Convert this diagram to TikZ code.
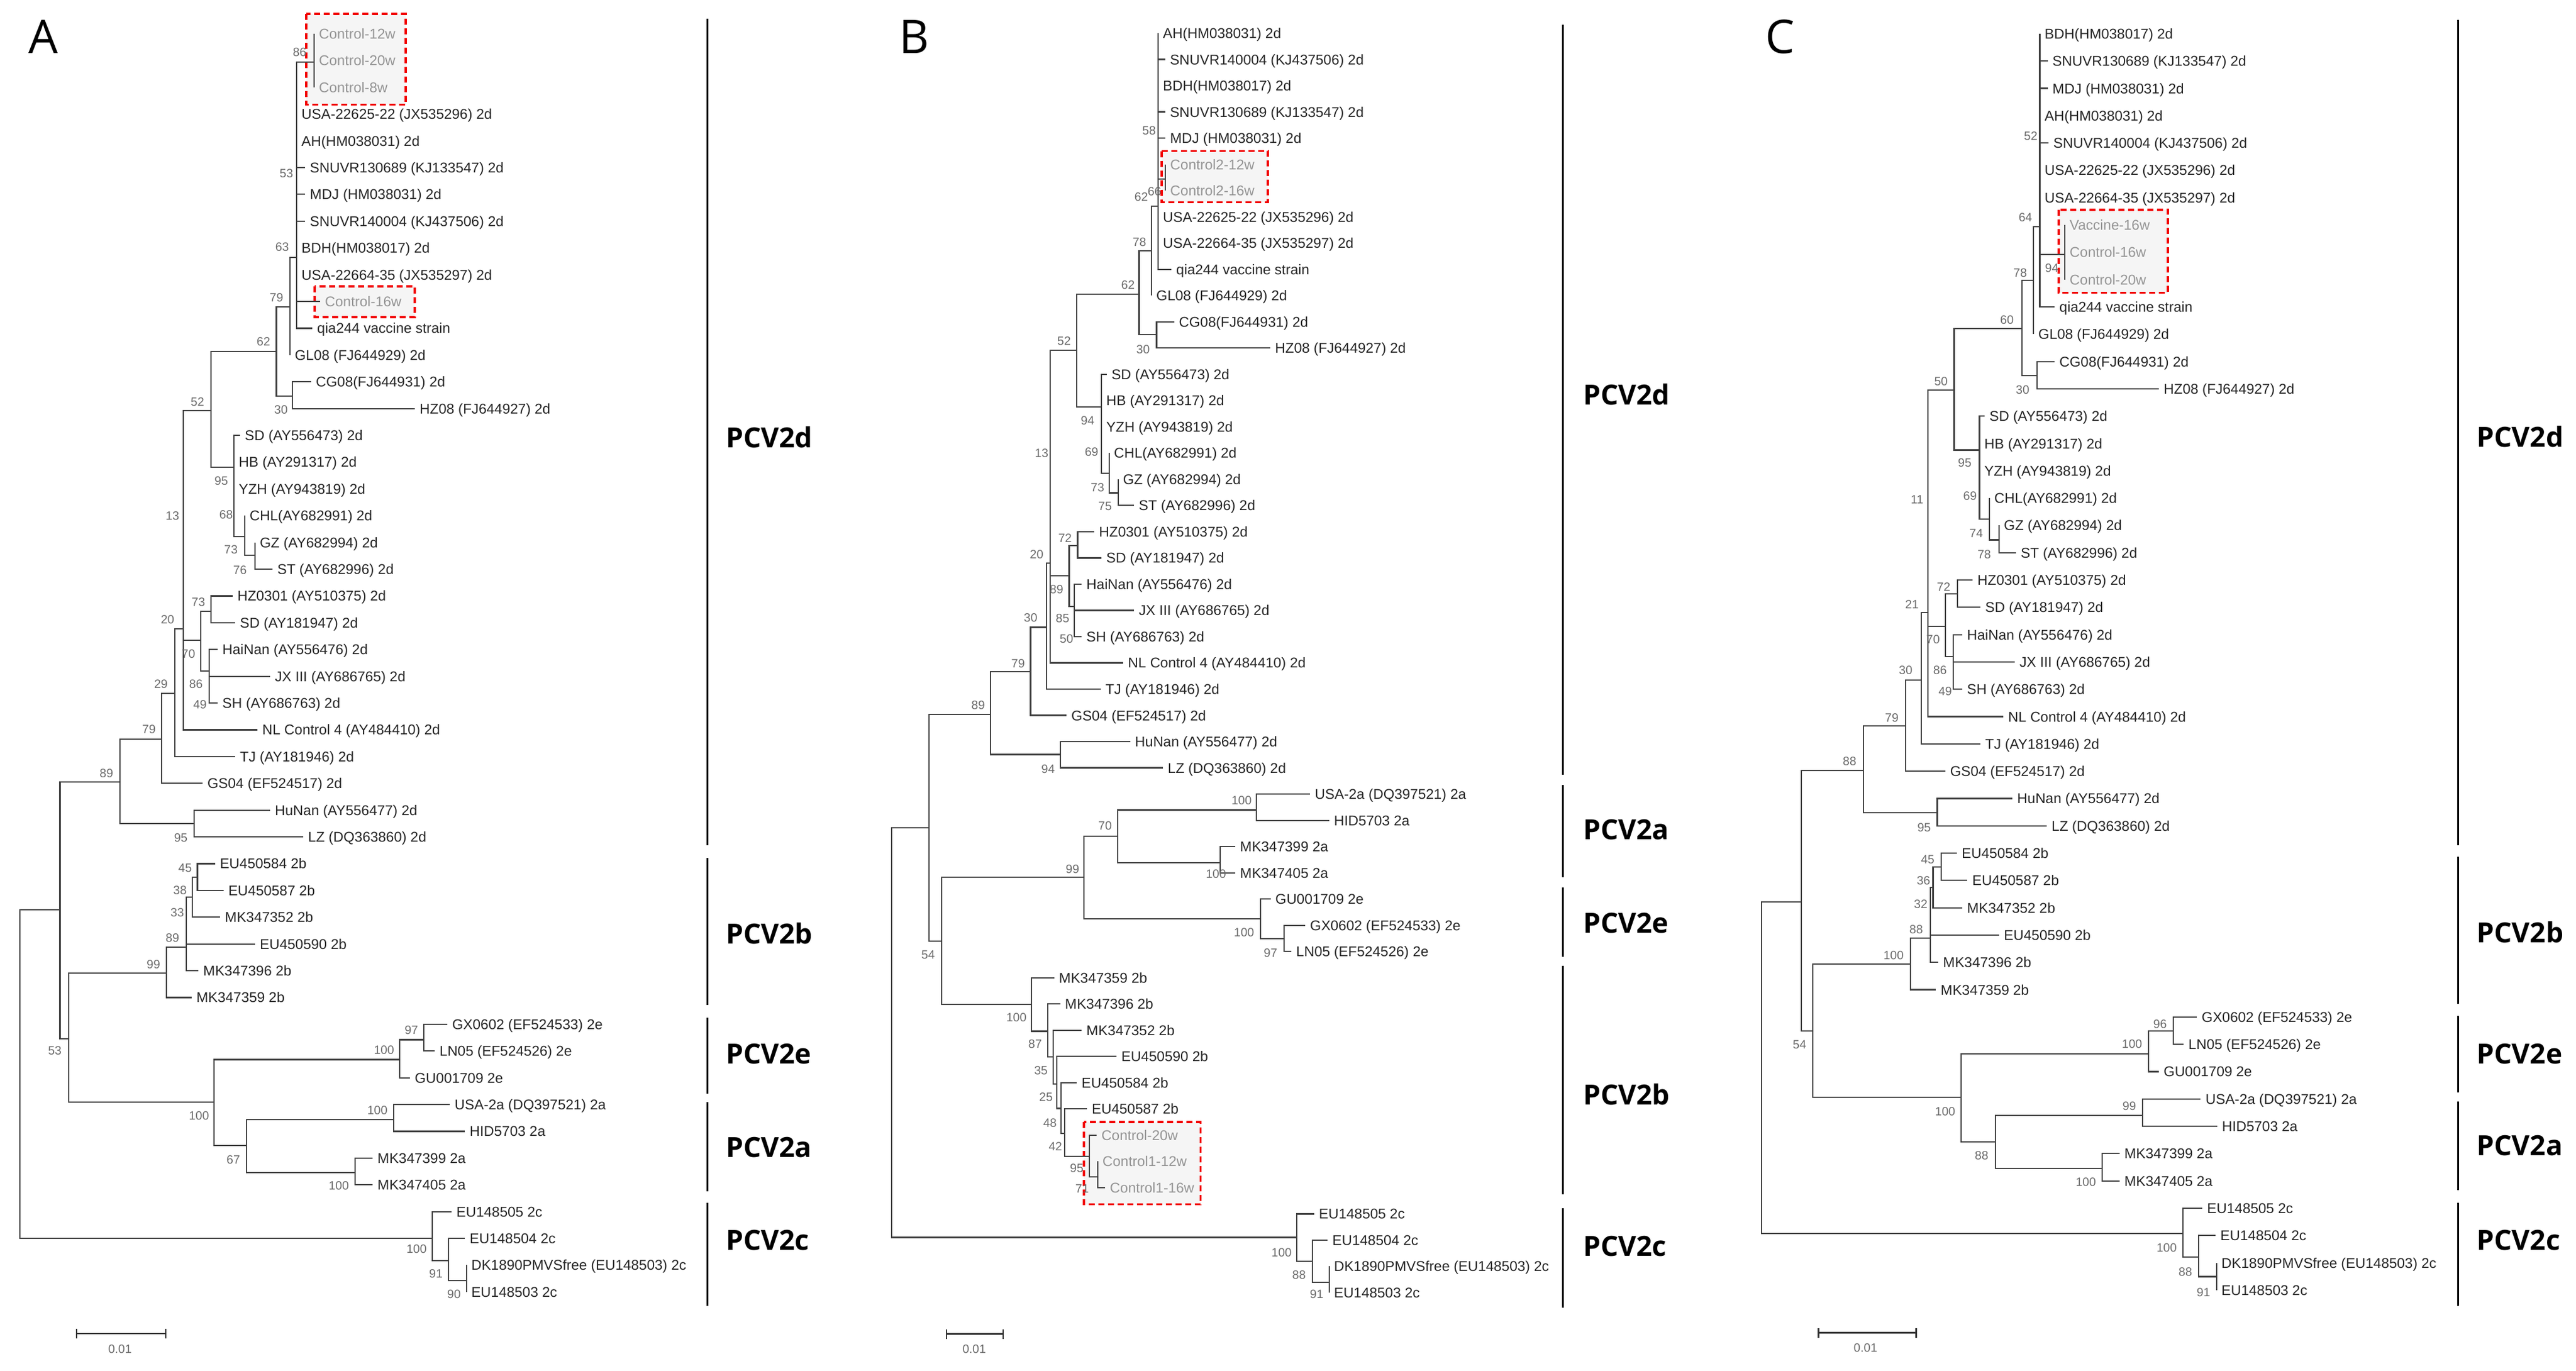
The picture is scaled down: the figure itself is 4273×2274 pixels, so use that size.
\documentclass[tikz,border=0pt]{standalone}
\usepackage{fontspec}
\setmainfont{Liberation Sans}
\newfontfamily\leaffam{Liberation Sans}
\newfontfamily\headfam{Open Sans}
\newcommand\leaffont{\leaffam\fontsize{23.5}{28}\selectfont}
\newcommand\bsfont{\leaffam\fontsize{20}{24}\selectfont}
\newcommand\cladefont{\headfam\bfseries\fontsize{46}{50}\selectfont}
\newcommand\panelfont{\headfam\fontsize{77}{80}\selectfont}
\newcommand\rA[1]{56+44.4*(#1-1)}
\newcommand\rB[1]{55+43.52*(#1-1)}
\newcommand\rC[1]{56+45.3*(#1-1)}
\tikzset{
  br/.style={draw=black!75, line width=2.2pt},
  leaf/.style={anchor=west, inner xsep=8pt, inner ysep=0pt, font=\leaffont, text=black!85, text height=17pt, text depth=0pt},
  ctl/.style={leaf, text=black!42},
  bs/.style={font=\bsfont, text=black!58, inner sep=0pt},
  clade/.style={font=\cladefont, anchor=west, inner sep=0pt, text=black},
  panel/.style={font=\panelfont, inner sep=0pt, text=black},
  cbar/.style={draw=black, line width=3pt},
  redbox/.style={draw=red!95!black, dash pattern=on 10pt off 6pt, line width=3.5pt, fill=black!4},
  scalebar/.style={draw=black!80, line width=2.5pt},
  sclabel/.style={font=\bsfont, text=black!58, inner sep=0pt}
}
\begin{document}
\begin{tikzpicture}[x=1pt,y=-1pt]
\fill[white] (0,0) rectangle (4273,2274);
\useasboundingbox (0,0) rectangle (4273,2274);

% ---------------- red boxes ----------------
\draw[redbox] (508,23) rectangle (673,173.5);
\draw[redbox] (522,475) rectangle (688,526);
\draw[redbox] (1927,250.6) rectangle (2103,335.4);
\draw[redbox] (1798,1861) rectangle (1991.5,1997.5);
\draw[redbox] (3415,348) rectangle (3596,485.7);

% ---------------- panel letters ----------------
\node[panel] (pA) at (72,61) {A};
\node[panel] (pB) at (1516,61) {B};
\node[panel] (pC) at (2952.5,61) {C};

% =============== PANEL A ===============
\coordinate (aiR) at (33,1781);
\coordinate (aiX) at (99.5,1509);
\coordinate (ai89) at (199,1297);
\coordinate (ai29) at (268,1226);
\coordinate (ai20) at (290,1149.6);
\coordinate (ai13) at (304,1043);
\coordinate (ai52) at (350,681);
\coordinate (ai62) at (458.5,583);
\coordinate (ai79) at (481,509);
\coordinate (aiP) at (492,426.6);
\coordinate (aiC3) at (521,103);
\coordinate (ai30) at (485,657);
\coordinate (ai95) at (388,775);
\coordinate (ai68) at (406,890);
\coordinate (ai73) at (423,921);
\coordinate (ai70) at (333,1062);
\coordinate (ai73b) at (350,1014);
\coordinate (ai86) at (346.6,1113);
\coordinate (ai95b) at (322,1366);
\coordinate (ai53) at (113.6,1723);
\coordinate (ai99) at (276,1614);
\coordinate (ai89b) at (309,1571);
\coordinate (ai38) at (319,1488);
\coordinate (ai45) at (327.5,1455);
\coordinate (ai100) at (355,1828);
\coordinate (ai100e) at (663,1757.5);
\coordinate (ai97) at (703,1724.5);
\coordinate (ai67) at (409,1900);
\coordinate (ai100a) at (652.6,1857);
\coordinate (ai100b) at (589,1945);
\coordinate (ai100c) at (717,2053.7);
\coordinate (ai91) at (744,2091);
\coordinate (ai90) at (773.6,2124);

\node[ctl] (al1) at (521,{\rA{1}}) {Control-12w};
\node[ctl] (al2) at (521,{\rA{2}}) {Control-20w};
\node[ctl] (al3) at (521,{\rA{3}}) {Control-8w};
\node[leaf] (al4) at (492,{\rA{4}}) {USA-22625-22 (JX535296) 2d};
\node[leaf] (al5) at (492,{\rA{5}}) {AH(HM038031) 2d};
\node[leaf] (al6) at (506,{\rA{6}}) {SNUVR130689 (KJ133547) 2d};
\node[leaf] (al7) at (506,{\rA{7}}) {MDJ (HM038031) 2d};
\node[leaf] (al8) at (506,{\rA{8}}) {SNUVR140004 (KJ437506) 2d};
\node[leaf] (al9) at (492,{\rA{9}}) {BDH(HM038017) 2d};
\node[leaf] (al10) at (492,{\rA{10}}) {USA-22664-35 (JX535297) 2d};
\node[ctl] (al11) at (531,{\rA{11}}) {Control-16w};
\node[leaf] (al12) at (518,{\rA{12}}) {qia244 vaccine strain};
\node[leaf] (al13) at (481,{\rA{13}}) {GL08 (FJ644929) 2d};
\node[leaf] (al14) at (516,{\rA{14}}) {CG08(FJ644931) 2d};
\node[leaf] (al15) at (688,{\rA{15}}) {HZ08 (FJ644927) 2d};
\node[leaf] (al16) at (398,{\rA{16}}) {SD (AY556473) 2d};
\node[leaf] (al17) at (388,{\rA{17}}) {HB (AY291317) 2d};
\node[leaf] (al18) at (388,{\rA{18}}) {YZH (AY943819) 2d};
\node[leaf] (al19) at (406,{\rA{19}}) {CHL(AY682991) 2d};
\node[leaf] (al20) at (423,{\rA{20}}) {GZ (AY682994) 2d};
\node[leaf] (al21) at (452,{\rA{21}}) {ST (AY682996) 2d};
\node[leaf] (al22) at (385.6,{\rA{22}}) {HZ0301 (AY510375) 2d};
\node[leaf] (al23) at (390,{\rA{23}}) {SD (AY181947) 2d};
\node[leaf] (al24) at (360.7,{\rA{24}}) {HaiNan (AY556476) 2d};
\node[leaf] (al25) at (448,{\rA{25}}) {JX III (AY686765) 2d};
\node[leaf] (al26) at (360.7,{\rA{26}}) {SH (AY686763) 2d};
\node[leaf] (al27) at (427,{\rA{27}}) {NL Control 4 (AY484410) 2d};
\node[leaf] (al28) at (390,{\rA{28}}) {TJ (AY181946) 2d};
\node[leaf] (al29) at (336,{\rA{29}}) {GS04 (EF524517) 2d};
\node[leaf] (al30) at (448,{\rA{30}}) {HuNan (AY556477) 2d};
\node[leaf] (al31) at (503,{\rA{31}}) {LZ (DQ363860) 2d};
\node[leaf] (al32) at (356.6,{\rA{32}}) {EU450584 2b};
\node[leaf] (al33) at (370.6,{\rA{33}}) {EU450587 2b};
\node[leaf] (al34) at (365,{\rA{34}}) {MK347352 2b};
\node[leaf] (al35) at (423,{\rA{35}}) {EU450590 2b};
\node[leaf] (al36) at (329,{\rA{36}}) {MK347396 2b};
\node[leaf] (al37) at (317.6,{\rA{37}}) {MK347359 2b};
\node[leaf] (al38) at (742,{\rA{38}}) {GX0602 (EF524533) 2e};
\node[leaf] (al39) at (721,{\rA{39}}) {LN05 (EF524526) 2e};
\node[leaf] (al40) at (680,{\rA{40}}) {GU001709 2e};
\node[leaf] (al41) at (746,{\rA{41}}) {USA-2a (DQ397521) 2a};
\node[leaf] (al42) at (771,{\rA{42}}) {HID5703 2a};
\node[leaf] (al43) at (618,{\rA{43}}) {MK347399 2a};
\node[leaf] (al44) at (618,{\rA{44}}) {MK347405 2a};
\node[leaf] (al45) at (749,{\rA{45}}) {EU148505 2c};
\node[leaf] (al46) at (771,{\rA{46}}) {EU148504 2c};
\node[leaf] (al47) at (773.6,{\rA{47}}) {DK1890PMVSfree (EU148503) 2c};
\node[leaf] (al48) at (773.6,{\rA{48}}) {EU148503 2c};

\draw[br] (aiR) |- (aiX);  \draw[br] (aiR) |- (ai100c);
\draw[br] (aiX) |- (ai89); \draw[br] (aiX) |- (ai53);
\draw[br] (ai89) |- (ai29); \draw[br] (ai89) |- (ai95b);
\draw[br] (ai29) |- (ai20); \draw[br] (ai29) |- (al29.west);
\draw[br] (ai20) |- (ai13); \draw[br] (ai20) |- (al28.west);
\draw[br] (ai13) |- (ai52); \draw[br] (ai13) |- (ai70); \draw[br] (ai13) |- (al27.west);
\draw[br] (ai52) |- (ai62); \draw[br] (ai52) |- (ai95);
\draw[br] (ai62) |- (ai79); \draw[br] (ai62) |- (ai30);
\draw[br] (ai79) |- (aiP); \draw[br] (ai79) |- (al13.west);
\draw[br] (aiP) |- (aiC3);
\foreach \k in {4,...,12} {\draw[br] (aiP) |- (al\k.west);}
\foreach \k in {1,2,3} {\draw[br] (aiC3) |- (al\k.west);}
\draw[br] (ai30) |- (al14.west); \draw[br] (ai30) |- (al15.west);
\foreach \k in {16,17,18} {\draw[br] (ai95) |- (al\k.west);}
\draw[br] (ai95) |- (ai68);
\draw[br] (ai68) |- (al19.west); \draw[br] (ai68) |- (ai73);
\draw[br] (ai73) |- (al20.west); \draw[br] (ai73) |- (al21.west);
\draw[br] (ai70) |- (ai73b); \draw[br] (ai70) |- (ai86);
\draw[br] (ai73b) |- (al22.west); \draw[br] (ai73b) |- (al23.west);
\foreach \k in {24,25,26} {\draw[br] (ai86) |- (al\k.west);}
\draw[br] (ai95b) |- (al30.west); \draw[br] (ai95b) |- (al31.west);
\draw[br] (ai53) |- (ai99); \draw[br] (ai53) |- (ai100);
\draw[br] (ai99) |- (ai89b); \draw[br] (ai99) |- (al37.west);
\draw[br] (ai89b) |- (ai38); \draw[br] (ai89b) |- (al35.west); \draw[br] (ai89b) |- (al36.west);
\draw[br] (ai38) |- (ai45); \draw[br] (ai38) |- (al34.west);
\draw[br] (ai45) |- (al32.west); \draw[br] (ai45) |- (al33.west);
\draw[br] (ai100) |- (ai100e); \draw[br] (ai100) |- (ai67);
\draw[br] (ai100e) |- (ai97); \draw[br] (ai100e) |- (al40.west);
\draw[br] (ai97) |- (al38.west); \draw[br] (ai97) |- (al39.west);
\draw[br] (ai67) |- (ai100a); \draw[br] (ai67) |- (ai100b);
\draw[br] (ai100a) |- (al41.west); \draw[br] (ai100a) |- (al42.west);
\draw[br] (ai100b) |- (al43.west); \draw[br] (ai100b) |- (al44.west);
\draw[br] (ai100c) |- (al45.west); \draw[br] (ai100c) |- (ai91);
\draw[br] (ai91) |- (al46.west); \draw[br] (ai91) |- (ai90);
\draw[br] (ai90) |- (al47.west); \draw[br] (ai90) |- (al48.west);

\node[bs] (ab1) at (497,87) {86};
\node[bs] (ab2) at (475,288) {53};
\node[bs] (ab3) at (468,410) {63};
\node[bs] (ab4) at (458.5,494) {79};
\node[bs] (ab5) at (437,567) {62};
\node[bs] (ab6) at (466,680) {30};
\node[bs] (ab7) at (327.5,666.5) {52};
\node[bs] (ab8) at (367,798) {95};
\node[bs] (ab9) at (375,854) {68};
\node[bs] (ab10) at (383,912) {73};
\node[bs] (ab11) at (398,946) {76};
\node[bs] (ab12) at (286,856) {13};
\node[bs] (ab13) at (329,999) {73};
\node[bs] (ab14) at (278,1028) {20};
\node[bs] (ab15) at (312.6,1085) {70};
\node[bs] (ab16) at (325,1135) {86};
\node[bs] (ab17) at (331.7,1169) {49};
\node[bs] (ab18) at (267,1135) {29};
\node[bs] (ab19) at (247,1210) {79};
\node[bs] (ab20) at (176.6,1283) {89};
\node[bs] (ab21) at (300,1389.5) {95};
\node[bs] (ab22) at (307,1440) {45};
\node[bs] (ab23) at (298.5,1477) {38};
\node[bs] (ab24) at (294,1514) {33};
\node[bs] (ab25) at (286,1556) {89};
\node[bs] (ab26) at (254.6,1600) {99};
\node[bs] (ab27) at (91,1743) {53};
\node[bs] (ab28) at (330,1851) {100};
\node[bs] (ab29) at (682.4,1709) {97};
\node[bs] (ab30) at (637,1742) {100};
\node[bs] (ab31) at (626,1842) {100};
\node[bs] (ab32) at (387,1924) {67};
\node[bs] (ab33) at (562,1967) {100};
\node[bs] (ab34) at (691,2072) {100};
\node[bs] (ab35) at (723,2113) {91};
\node[bs] (ab36) at (753,2147) {90};

\draw[cbar] (1173,31.5) -- (1173,1402);
\draw[cbar] (1173,1423) -- (1173,1667);
\draw[cbar] (1173,1688) -- (1173,1814);
\draw[cbar] (1173,1828) -- (1173,1976);
\draw[cbar] (1173,1995) -- (1173,2166);
\node[clade] (acd) at (1204,725) {PCV2d};
\node[clade] (acb) at (1204,1548) {PCV2b};
\node[clade] (ace) at (1204,1748) {PCV2e};
\node[clade] (aca) at (1204,1903) {PCV2a};
\node[clade] (acc) at (1204,2057) {PCV2c};

\draw[scalebar] (127,2212) -- (275,2212);
\draw[scalebar] (127,2204) -- (127,2220);
\draw[scalebar] (275,2204) -- (275,2220);
\node[sclabel] (asc) at (199,2238) {0.01};

% =============== PANEL B ===============
\coordinate (biR) at (1479,1712);
\coordinate (bi89t) at (1541,1372.6);
\coordinate (bi79) at (1643,1185);
\coordinate (bi30) at (1709.5,1114);
\coordinate (bi20) at (1736,1040.5);
\coordinate (bi13) at (1742,934);
\coordinate (bi52) at (1786,581);
\coordinate (bi62) at (1889.5,487.6);
\coordinate (bi78) at (1910,416);
\coordinate (biP) at (1921,341.7);
\coordinate (biC2) at (1933,297);
\coordinate (bi30b) at (1918.5,555);
\coordinate (bi94) at (1827,674.7);
\coordinate (bi69) at (1839.7,785);
\coordinate (bi73) at (1854.6,817.5);
\coordinate (biX) at (1773.4,955);
\coordinate (bi72) at (1787.5,904.8);
\coordinate (bi89) at (1781.7,1005.6);
\coordinate (bi94b) at (1759,1251.5);
\coordinate (bi54) at (1562,1561);
\coordinate (bi99) at (1798,1455);
\coordinate (bi70) at (1854,1387);
\coordinate (bi100a) at (2084,1343.5);
\coordinate (bi100b) at (2024,1430.7);
\coordinate (bi100e) at (2091,1524);
\coordinate (bi97) at (2130,1557);
\coordinate (bi100f) at (1711,1666);
\coordinate (bi87) at (1738,1710.4);
\coordinate (bi36) at (1746.7,1753);
\coordinate (bi25) at (1753.3,1798);
\coordinate (bi48) at (1760,1838.5);
\coordinate (bi42) at (1766,1880);
\coordinate (bi95) at (1806.7,1918.3);
\coordinate (bi71) at (1820.7,1951.7);
\coordinate (bi100c) at (2150.6,2052.5);
\coordinate (bi88) at (2177,2092);
\coordinate (bi91) at (2204.6,2126.6);

\node[leaf] (bl1) at (1921,{\rB{1}}) {AH(HM038031) 2d};
\node[leaf] (bl2) at (1932.6,{\rB{2}}) {SNUVR140004 (KJ437506) 2d};
\node[leaf] (bl3) at (1921,{\rB{3}}) {BDH(HM038017) 2d};
\node[leaf] (bl4) at (1932.6,{\rB{4}}) {SNUVR130689 (KJ133547) 2d};
\node[leaf] (bl5) at (1932.6,{\rB{5}}) {MDJ (HM038031) 2d};
\node[ctl] (bl6) at (1933,{\rB{6}}) {Control2-12w};
\node[ctl] (bl7) at (1933,{\rB{7}}) {Control2-16w};
\node[leaf] (bl8) at (1921,{\rB{8}}) {USA-22625-22 (JX535296) 2d};
\node[leaf] (bl9) at (1921,{\rB{9}}) {USA-22664-35 (JX535297) 2d};
\node[leaf] (bl10) at (1943,{\rB{10}}) {qia244 vaccine strain};
\node[leaf] (bl11) at (1910,{\rB{11}}) {GL08 (FJ644929) 2d};
\node[leaf] (bl12) at (1947.5,{\rB{12}}) {CG08(FJ644931) 2d};
\node[leaf] (bl13) at (2107,{\rB{13}}) {HZ08 (FJ644927) 2d};
\node[leaf] (bl14) at (1835.6,{\rB{14}}) {SD (AY556473) 2d};
\node[leaf] (bl15) at (1827,{\rB{15}}) {HB (AY291317) 2d};
\node[leaf] (bl16) at (1827,{\rB{16}}) {YZH (AY943819) 2d};
\node[leaf] (bl17) at (1839.7,{\rB{17}}) {CHL(AY682991) 2d};
\node[leaf] (bl18) at (1854.6,{\rB{18}}) {GZ (AY682994) 2d};
\node[leaf] (bl19) at (1881,{\rB{19}}) {ST (AY682996) 2d};
\node[leaf] (bl20) at (1815,{\rB{20}}) {HZ0301 (AY510375) 2d};
\node[leaf] (bl21) at (1827,{\rB{21}}) {SD (AY181947) 2d};
\node[leaf] (bl22) at (1794,{\rB{22}}) {HaiNan (AY556476) 2d};
\node[leaf] (bl23) at (1881,{\rB{23}}) {JX III (AY686765) 2d};
\node[leaf] (bl24) at (1794,{\rB{24}}) {SH (AY686763) 2d};
\node[leaf] (bl25) at (1863,{\rB{25}}) {NL Control 4 (AY484410) 2d};
\node[leaf] (bl26) at (1825.6,{\rB{26}}) {TJ (AY181946) 2d};
\node[leaf] (bl27) at (1769,{\rB{27}}) {GS04 (EF524517) 2d};
\node[leaf] (bl28) at (1874.5,{\rB{28}}) {HuNan (AY556477) 2d};
\node[leaf] (bl29) at (1929,{\rB{29}}) {LZ (DQ363860) 2d};
\node[leaf] (bl30) at (2173,{\rB{30}}) {USA-2a (DQ397521) 2a};
\node[leaf] (bl31) at (2204.6,{\rB{31}}) {HID5703 2a};
\node[leaf] (bl32) at (2048.7,{\rB{32}}) {MK347399 2a};
\node[leaf] (bl33) at (2048.7,{\rB{33}}) {MK347405 2a};
\node[leaf] (bl34) at (2107.5,{\rB{34}}) {GU001709 2e};
\node[leaf] (bl35) at (2165,{\rB{35}}) {GX0602 (EF524533) 2e};
\node[leaf] (bl36) at (2142,{\rB{36}}) {LN05 (EF524526) 2e};
\node[leaf] (bl37) at (1748.5,{\rB{37}}) {MK347359 2b};
\node[leaf] (bl38) at (1758.5,{\rB{38}}) {MK347396 2b};
\node[leaf] (bl39) at (1794,{\rB{39}}) {MK347352 2b};
\node[leaf] (bl40) at (1852,{\rB{40}}) {EU450590 2b};
\node[leaf] (bl41) at (1786,{\rB{41}}) {EU450584 2b};
\node[leaf] (bl42) at (1803,{\rB{42}}) {EU450587 2b};
\node[ctl] (bl43) at (1819,{\rB{43}}) {Control-20w};
\node[ctl] (bl44) at (1820.7,{\rB{44}}) {Control1-12w};
\node[ctl] (bl45) at (1833,{\rB{45}}) {Control1-16w};
\node[leaf] (bl46) at (2179.7,{\rB{46}}) {EU148505 2c};
\node[leaf] (bl47) at (2202,{\rB{47}}) {EU148504 2c};
\node[leaf] (bl48) at (2204.6,{\rB{48}}) {DK1890PMVSfree (EU148503) 2c};
\node[leaf] (bl49) at (2204.6,{\rB{49}}) {EU148503 2c};

\draw[br] (biR) |- (bi89t); \draw[br] (biR) |- (bi100c);
\draw[br] (bi89t) |- (bi79); \draw[br] (bi89t) |- (bi54);
\draw[br] (bi79) |- (bi30); \draw[br] (bi79) |- (bi94b);
\draw[br] (bi30) |- (bi20); \draw[br] (bi30) |- (bl27.west);
\draw[br] (bi20) |- (bi13); \draw[br] (bi20) |- (bl26.west);
\draw[br] (bi13) |- (bi52); \draw[br] (bi13) |- (biX); \draw[br] (bi13) |- (bl25.west);
\draw[br] (bi52) |- (bi62); \draw[br] (bi52) |- (bi94);
\draw[br] (bi62) |- (bi78); \draw[br] (bi62) |- (bi30b);
\draw[br] (bi78) |- (biP); \draw[br] (bi78) |- (bl11.west);
\foreach \k in {1,2,3,4,5,8,9,10} {\draw[br] (biP) |- (bl\k.west);}
\draw[br] (biP) |- (biC2);
\draw[br] (biC2) |- (bl6.west); \draw[br] (biC2) |- (bl7.west);
\draw[br] (bi30b) |- (bl12.west); \draw[br] (bi30b) |- (bl13.west);
\foreach \k in {14,15,16} {\draw[br] (bi94) |- (bl\k.west);}
\draw[br] (bi94) |- (bi69);
\draw[br] (bi69) |- (bl17.west); \draw[br] (bi69) |- (bi73);
\draw[br] (bi73) |- (bl18.west); \draw[br] (bi73) |- (bl19.west);
\draw[br] (biX) |- (bi72); \draw[br] (biX) |- (bi89);
\draw[br] (bi72) |- (bl20.west); \draw[br] (bi72) |- (bl21.west);
\foreach \k in {22,23,24} {\draw[br] (bi89) |- (bl\k.west);}
\draw[br] (bi94b) |- (bl28.west); \draw[br] (bi94b) |- (bl29.west);
\draw[br] (bi54) |- (bi99); \draw[br] (bi54) |- (bi100f);
\draw[br] (bi99) |- (bi70); \draw[br] (bi99) |- (bi100e);
\draw[br] (bi70) |- (bi100a); \draw[br] (bi70) |- (bi100b);
\draw[br] (bi100a) |- (bl30.west); \draw[br] (bi100a) |- (bl31.west);
\draw[br] (bi100b) |- (bl32.west); \draw[br] (bi100b) |- (bl33.west);
\draw[br] (bi100e) |- (bl34.west); \draw[br] (bi100e) |- (bi97);
\draw[br] (bi97) |- (bl35.west); \draw[br] (bi97) |- (bl36.west);
\draw[br] (bi100f) |- (bl37.west); \draw[br] (bi100f) |- (bi87);
\draw[br] (bi87) |- (bl38.west); \draw[br] (bi87) |- (bi36);
\draw[br] (bi36) |- (bl39.west); \draw[br] (bi36) |- (bi25);
\draw[br] (bi25) |- (bl40.west); \draw[br] (bi25) |- (bi48);
\draw[br] (bi48) |- (bl41.west); \draw[br] (bi48) |- (bi42);
\draw[br] (bi42) |- (bl42.west); \draw[br] (bi42) |- (bi95);
\draw[br] (bi95) |- (bl43.west); \draw[br] (bi95) |- (bi71);
\draw[br] (bi71) |- (bl44.west); \draw[br] (bi71) |- (bl45.west);
\draw[br] (bi100c) |- (bl46.west); \draw[br] (bi100c) |- (bi88);
\draw[br] (bi88) |- (bl47.west); \draw[br] (bi88) |- (bi91);
\draw[br] (bi91) |- (bl48.west); \draw[br] (bi91) |- (bl49.west);

\node[bs] (bb1) at (1906,216.7) {58};
\node[bs] (bb2) at (1915,318) {66};
\node[bs] (bb3) at (1893,326.7) {62};
\node[bs] (bb4) at (1890,401.7) {78};
\node[bs] (bb5) at (1871,472.6) {62};
\node[bs] (bb6) at (1896,580) {30};
\node[bs] (bb7) at (1765,566) {52};
\node[bs] (bb8) at (1804,698) {94};
\node[bs] (bb9) at (1810.7,750) {69};
\node[bs] (bb10) at (1820.6,809) {73};
\node[bs] (bb11) at (1833,840) {75};
\node[bs] (bb12) at (1727.8,752) {13};
\node[bs] (bb13) at (1766.7,892.7) {72};
\node[bs] (bb14) at (1719.5,920) {20};
\node[bs] (bb15) at (1752.6,977.5) {89};
\node[bs] (bb16) at (1762.6,1026) {85};
\node[bs] (bb17) at (1769,1060) {50};
\node[bs] (bb18) at (1709.5,1025) {30};
\node[bs] (bb19) at (1688.8,1101) {79};
\node[bs] (bb20) at (1622.5,1170) {89};
\node[bs] (bb21) at (1738.6,1275.6) {94};
\node[bs] (bb22) at (2059.5,1328) {100};
\node[bs] (bb23) at (1833,1370) {70};
\node[bs] (bb24) at (1779,1442) {99};
\node[bs] (bb25) at (2017,1450) {100};
\node[bs] (bb26) at (2063.6,1547) {100};
\node[bs] (bb27) at (2107.5,1581) {97};
\node[bs] (bb28) at (1539.6,1584) {54};
\node[bs] (bb29) at (1686,1687.6) {100};
\node[bs] (bb30) at (1717,1731.6) {87};
\node[bs] (bb31) at (1726.7,1776) {35};
\node[bs] (bb32) at (1735,1820) {25};
\node[bs] (bb33) at (1741.7,1862.7) {48};
\node[bs] (bb34) at (1750.7,1901.7) {42};
\node[bs] (bb35) at (1786,1938) {95};
\node[bs] (bb36) at (1795,1971.7) {71};
\node[bs] (bb37) at (2125.8,2077.5) {100};
\node[bs] (bb38) at (2154.8,2114.4) {88};
\node[bs] (bb39) at (2184,2147) {91};

\draw[cbar] (2592.6,41) -- (2592.6,1285);
\draw[cbar] (2592.6,1302) -- (2592.6,1455);
\draw[cbar] (2592.6,1472) -- (2592.6,1587);
\draw[cbar] (2592.6,1601.5) -- (2592.6,1981);
\draw[cbar] (2592.6,2004) -- (2592.6,2168.6);
\node[clade] (bcd) at (2626,654) {PCV2d};
\node[clade] (bca) at (2626,1376) {PCV2a};
\node[clade] (bce) at (2626,1530.6) {PCV2e};
\node[clade] (bcb) at (2626,1815) {PCV2b};
\node[clade] (bcc) at (2626,2067) {PCV2c};

\draw[scalebar] (1570,2212.6) -- (1664,2212.6);
\draw[scalebar] (1570,2204.6) -- (1570,2220.6);
\draw[scalebar] (1664,2204.6) -- (1664,2220.6);
\node[sclabel] (bsc) at (1616,2238) {0.01};

% =============== PANEL C ===============
\coordinate (ciR) at (2922,1771);
\coordinate (ci88) at (2987.6,1496);
\coordinate (ci79) at (3091,1278);
\coordinate (ci30b) at (3161,1204);
\coordinate (ci21) at (3187,1128);
\coordinate (ci11) at (3198,1016);
\coordinate (ci50) at (3241.5,647);
\coordinate (ci60) at (3353.6,545);
\coordinate (ci78) at (3373,465);
\coordinate (ciP) at (3383.4,375.7);
\coordinate (ciV) at (3425,421.7);
\coordinate (ci30) at (3379,623);
\coordinate (ci95) at (3283.5,746.5);
\coordinate (ci69) at (3300,861);
\coordinate (ci74) at (3316,895.5);
\coordinate (ci70) at (3226.6,1039);
\coordinate (ci72) at (3246.8,985);
\coordinate (ci86) at (3239.8,1089);
\coordinate (ci95b) at (3213.5,1348);
\coordinate (ci54) at (3006.8,1710);
\coordinate (ci100b) at (3169,1599);
\coordinate (ci32) at (3202,1556);
\coordinate (ci36) at (3206.5,1472);
\coordinate (ci45) at (3219.6,1438);
\coordinate (ci100) at (3253,1820);
\coordinate (ci100e) at (3563.7,1748);
\coordinate (ci96) at (3605,1710);
\coordinate (ci88a) at (3309.8,1894);
\coordinate (ci99) at (3554,1849.6);
\coordinate (ci100f) at (3486.7,1938);
\coordinate (ci100c) at (3620.7,2046);
\coordinate (ci88c) at (3647,2085);
\coordinate (ci91) at (3676.7,2117.5);

\node[leaf] (cl1) at (3383.4,{\rC{1}}) {BDH(HM038017) 2d};
\node[leaf] (cl2) at (3396.5,{\rC{2}}) {SNUVR130689 (KJ133547) 2d};
\node[leaf] (cl3) at (3396.5,{\rC{3}}) {MDJ (HM038031) 2d};
\node[leaf] (cl4) at (3383.4,{\rC{4}}) {AH(HM038031) 2d};
\node[leaf] (cl5) at (3398,{\rC{5}}) {SNUVR140004 (KJ437506) 2d};
\node[leaf] (cl6) at (3383.4,{\rC{6}}) {USA-22625-22 (JX535296) 2d};
\node[leaf] (cl7) at (3383.4,{\rC{7}}) {USA-22664-35 (JX535297) 2d};
\node[ctl] (cl8) at (3425,{\rC{8}}) {Vaccine-16w};
\node[ctl] (cl9) at (3425,{\rC{9}}) {Control-16w};
\node[ctl] (cl10) at (3425,{\rC{10}}) {Control-20w};
\node[leaf] (cl11) at (3408,{\rC{11}}) {qia244 vaccine strain};
\node[leaf] (cl12) at (3373,{\rC{12}}) {GL08 (FJ644929) 2d};
\node[leaf] (cl13) at (3408,{\rC{13}}) {CG08(FJ644931) 2d};
\node[leaf] (cl14) at (3581,{\rC{14}}) {HZ08 (FJ644927) 2d};
\node[leaf] (cl15) at (3292,{\rC{15}}) {SD (AY556473) 2d};
\node[leaf] (cl16) at (3283.5,{\rC{16}}) {HB (AY291317) 2d};
\node[leaf] (cl17) at (3283.5,{\rC{17}}) {YZH (AY943819) 2d};
\node[leaf] (cl18) at (3300,{\rC{18}}) {CHL(AY682991) 2d};
\node[leaf] (cl19) at (3316,{\rC{19}}) {GZ (AY682994) 2d};
\node[leaf] (cl20) at (3344,{\rC{20}}) {ST (AY682996) 2d};
\node[leaf] (cl21) at (3272,{\rC{21}}) {HZ0301 (AY510375) 2d};
\node[leaf] (cl22) at (3285,{\rC{22}}) {SD (AY181947) 2d};
\node[leaf] (cl23) at (3254.6,{\rC{23}}) {HaiNan (AY556476) 2d};
\node[leaf] (cl24) at (3342,{\rC{24}}) {JX III (AY686765) 2d};
\node[leaf] (cl25) at (3254.6,{\rC{25}}) {SH (AY686763) 2d};
\node[leaf] (cl26) at (3323,{\rC{26}}) {NL Control 4 (AY484410) 2d};
\node[leaf] (cl27) at (3285,{\rC{27}}) {TJ (AY181946) 2d};
\node[leaf] (cl28) at (3226.6,{\rC{28}}) {GS04 (EF524517) 2d};
\node[leaf] (cl29) at (3338,{\rC{29}}) {HuNan (AY556477) 2d};
\node[leaf] (cl30) at (3395,{\rC{30}}) {LZ (DQ363860) 2d};
\node[leaf] (cl31) at (3246,{\rC{31}}) {EU450584 2b};
\node[leaf] (cl32) at (3263.4,{\rC{32}}) {EU450587 2b};
\node[leaf] (cl33) at (3254.6,{\rC{33}}) {MK347352 2b};
\node[leaf] (cl34) at (3316,{\rC{34}}) {EU450590 2b};
\node[leaf] (cl35) at (3215,{\rC{35}}) {MK347396 2b};
\node[leaf] (cl36) at (3211,{\rC{36}}) {MK347359 2b};
\node[leaf] (cl37) at (3644,{\rC{37}}) {GX0602 (EF524533) 2e};
\node[leaf] (cl38) at (3622,{\rC{38}}) {LN05 (EF524526) 2e};
\node[leaf] (cl39) at (3581,{\rC{39}}) {GU001709 2e};
\node[leaf] (cl40) at (3650.4,{\rC{40}}) {USA-2a (DQ397521) 2a};
\node[leaf] (cl41) at (3677.6,{\rC{41}}) {HID5703 2a};
\node[leaf] (cl42) at (3515.6,{\rC{42}}) {MK347399 2a};
\node[leaf] (cl43) at (3515.6,{\rC{43}}) {MK347405 2a};
\node[leaf] (cl44) at (3653,{\rC{44}}) {EU148505 2c};
\node[leaf] (cl45) at (3675,{\rC{45}}) {EU148504 2c};
\node[leaf] (cl46) at (3676.7,{\rC{46}}) {DK1890PMVSfree (EU148503) 2c};
\node[leaf] (cl47) at (3676.7,{\rC{47}}) {EU148503 2c};

\draw[br] (ciR) |- (ci88); \draw[br] (ciR) |- (ci100c);
\draw[br] (ci88) |- (ci79); \draw[br] (ci88) |- (ci54);
\draw[br] (ci79) |- (ci30b); \draw[br] (ci79) |- (ci95b);
\draw[br] (ci30b) |- (ci21); \draw[br] (ci30b) |- (cl28.west);
\draw[br] (ci21) |- (ci11); \draw[br] (ci21) |- (cl27.west);
\draw[br] (ci11) |- (ci50); \draw[br] (ci11) |- (ci70); \draw[br] (ci11) |- (cl26.west);
\draw[br] (ci50) |- (ci60); \draw[br] (ci50) |- (ci95);
\draw[br] (ci60) |- (ci78); \draw[br] (ci60) |- (ci30);
\draw[br] (ci78) |- (ciP); \draw[br] (ci78) |- (cl12.west);
\foreach \k in {1,...,7,11} {\draw[br] (ciP) |- (cl\k.west);}
\draw[br] (ciP) |- (ciV);
\foreach \k in {8,9,10} {\draw[br] (ciV) |- (cl\k.west);}
\draw[br] (ci30) |- (cl13.west); \draw[br] (ci30) |- (cl14.west);
\foreach \k in {15,16,17} {\draw[br] (ci95) |- (cl\k.west);}
\draw[br] (ci95) |- (ci69);
\draw[br] (ci69) |- (cl18.west); \draw[br] (ci69) |- (ci74);
\draw[br] (ci74) |- (cl19.west); \draw[br] (ci74) |- (cl20.west);
\draw[br] (ci70) |- (ci72); \draw[br] (ci70) |- (ci86);
\draw[br] (ci72) |- (cl21.west); \draw[br] (ci72) |- (cl22.west);
\foreach \k in {23,24,25} {\draw[br] (ci86) |- (cl\k.west);}
\draw[br] (ci95b) |- (cl29.west); \draw[br] (ci95b) |- (cl30.west);
\draw[br] (ci54) |- (ci100b); \draw[br] (ci54) |- (ci100);
\draw[br] (ci100b) |- (ci32); \draw[br] (ci100b) |- (cl36.west);
\draw[br] (ci32) |- (ci36); \draw[br] (ci32) |- (cl34.west); \draw[br] (ci32) |- (cl35.west);
\draw[br] (ci36) |- (ci45); \draw[br] (ci36) |- (cl33.west);
\draw[br] (ci45) |- (cl31.west); \draw[br] (ci45) |- (cl32.west);
\draw[br] (ci100) |- (ci100e); \draw[br] (ci100) |- (ci88a);
\draw[br] (ci100e) |- (ci96); \draw[br] (ci100e) |- (cl39.west);
\draw[br] (ci96) |- (cl37.west); \draw[br] (ci96) |- (cl38.west);
\draw[br] (ci88a) |- (ci99); \draw[br] (ci88a) |- (ci100f);
\draw[br] (ci99) |- (cl40.west); \draw[br] (ci99) |- (cl41.west);
\draw[br] (ci100f) |- (cl42.west); \draw[br] (ci100f) |- (cl43.west);
\draw[br] (ci100c) |- (cl44.west); \draw[br] (ci100c) |- (ci88c);
\draw[br] (ci88c) |- (cl45.west); \draw[br] (ci88c) |- (ci91);
\draw[br] (ci91) |- (cl46.west); \draw[br] (ci91) |- (cl47.west);

\node[bs] (cb1) at (3368.5,225.4) {52};
\node[bs] (cb2) at (3359.7,361) {64};
\node[bs] (cb3) at (3403.5,445) {94};
\node[bs] (cb4) at (3351,453) {78};
\node[bs] (cb5) at (3329,531) {60};
\node[bs] (cb6) at (3355,647) {30};
\node[bs] (cb7) at (3219.6,632.6) {50};
\node[bs] (cb8) at (3259,768) {95};
\node[bs] (cb9) at (3267.8,823) {69};
\node[bs] (cb10) at (3278,885) {74};
\node[bs] (cb11) at (3291.4,920) {78};
\node[bs] (cb12) at (3180,829) {11};
\node[bs] (cb13) at (3224,973.6) {72};
\node[bs] (cb14) at (3171.5,1003) {21};
\node[bs] (cb15) at (3206.5,1061) {70};
\node[bs] (cb16) at (3218,1112) {86};
\node[bs] (cb17) at (3226.6,1147) {49};
\node[bs] (cb18) at (3161,1112) {30};
\node[bs] (cb19) at (3138,1191) {79};
\node[bs] (cb20) at (3068,1262.5) {88};
\node[bs] (cb21) at (3191.6,1372.6) {95};
\node[bs] (cb22) at (3197.7,1426) {45};
\node[bs] (cb23) at (3190.7,1461) {36};
\node[bs] (cb24) at (3186,1500) {32};
\node[bs] (cb25) at (3178.5,1542) {88};
\node[bs] (cb26) at (3141,1585) {100};
\node[bs] (cb27) at (2985,1733) {54};
\node[bs] (cb28) at (3583,1698.7) {96};
\node[bs] (cb29) at (3536.6,1731.6) {100};
\node[bs] (cb30) at (3532,1834.4) {99};
\node[bs] (cb31) at (3226.6,1843.5) {100};
\node[bs] (cb32) at (3287,1916.5) {88};
\node[bs] (cb33) at (3460,1961) {100};
\node[bs] (cb34) at (3594,2070) {100};
\node[bs] (cb35) at (3625,2110) {88};
\node[bs] (cb36) at (3655,2144) {91};

\draw[cbar] (4077.8,33) -- (4077.8,1401.7);
\draw[cbar] (4077.8,1421) -- (4077.8,1664.8);
\draw[cbar] (4077.8,1685) -- (4077.8,1811.6);
\draw[cbar] (4077.8,1827) -- (4077.8,1973.7);
\draw[cbar] (4077.8,1995) -- (4077.8,2166);
\node[clade] (ccd) at (4108.4,724.7) {PCV2d};
\node[clade] (ccb) at (4108.4,1546) {PCV2b};
\node[clade] (cce) at (4108.4,1748) {PCV2e};
\node[clade] (cca) at (4108.4,1900) {PCV2a};
\node[clade] (ccc) at (4108.4,2057) {PCV2c};

\draw[scalebar] (3016.5,2210.6) -- (3178.5,2210.6);
\draw[scalebar] (3016.5,2202.6) -- (3016.5,2218.6);
\draw[scalebar] (3178.5,2202.6) -- (3178.5,2218.6);
\node[sclabel] (csc) at (3094.4,2236) {0.01};
\end{tikzpicture}
\end{document}
